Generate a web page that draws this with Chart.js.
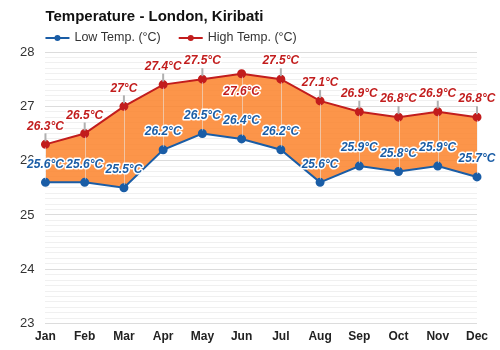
<!DOCTYPE html>
<html>
<head>
<meta charset="utf-8">
<script src="https://cdn.jsdelivr.net/npm/chart.js@4"></script>
<style>
  html, body { margin: 0; padding: 0; background: #fff; }
  #wrap { width: 500px; height: 350px; }
</style>
</head>
<body>
<div id="wrap"><canvas id="grafico"></canvas></div>
<script>
// dados do gráfico
const meses = ["Jan", "Feb", "Mar", "Apr", "May", "Jun", "Jul", "Aug", "Sep", "Oct", "Nov", "Dec"];
const minimas = [25.6, 25.6, 25.5, 26.2, 26.5, 26.4, 26.2, 25.6, 25.9, 25.8, 25.9, 25.7];
const maximas = [26.3, 26.5, 27, 27.4, 27.5, 27.6, 27.5, 27.1, 26.9, 26.8, 26.9, 26.8];
const titulo = "Temperature - London, Kiribati";
const nomesSeries = ["Low Temp. (°C)", "High Temp. (°C)"];

const AZUL = "#1a5da6";
const VERMELHO = "#c21d1d";
const FONTE = "'Liberation Sans', Arial, sans-serif";

// título e legenda desenhados à mão, alinhados com a área do gráfico
const cabecalho = {
  id: "cabecalho",
  afterDraw(chart) {
    const c = chart.ctx;
    const x0 = chart.chartArea.left;
    c.save();
    c.fillStyle = "#111";
    c.font = "bold 15px " + FONTE;
    c.textBaseline = "middle";
    c.fillText(titulo, x0, 17);

    c.font = "12.5px " + FONTE;
    let x = x0;
    chart.data.datasets.forEach(ds => {
      c.strokeStyle = ds.borderColor;
      c.lineWidth = 2;
      c.beginPath();
      c.moveTo(x, 38);
      c.lineTo(x + 24, 38);
      c.stroke();
      c.fillStyle = ds.borderColor;
      c.beginPath();
      c.arc(x + 12, 38, 3, 0, Math.PI * 2);
      c.fill();
      c.fillStyle = "#333";
      c.fillText(ds.label, x + 29, 38);
      x += 29 + c.measureText(ds.label).width + 18;
    });
    c.restore();
  }
};

// rótulos dos valores com linha guia
const rotulos = {
  id: "rotulos",
  afterDatasetsDraw(chart) {
    const c = chart.ctx;
    const baixo = chart.getDatasetMeta(0).data;
    const alto = chart.getDatasetMeta(1).data;
    c.save();
    // linhas verticais entre mínima e máxima
    c.strokeStyle = "rgba(235,235,235,0.55)";
    c.lineWidth = 1;
    alto.forEach((p, i) => {
      c.beginPath();
      c.moveTo(Math.round(p.x) + 0.5, p.y + 3);
      c.lineTo(Math.round(p.x) + 0.5, baixo[i].y - 3);
      c.stroke();
    });

    c.font = "italic bold 12px " + FONTE;
    c.textAlign = "center";
    c.textBaseline = "middle";
    c.lineJoin = "round";
    chart.data.datasets.forEach((ds, d) => {
      const pts = chart.getDatasetMeta(d).data;
      pts.forEach((p, i) => {
        // junho da máxima fica abaixo do ponto para não colidir
        const abaixo = d === 1 && i === 5;
        const ty = abaixo ? p.y + 18 : p.y - 18;
        if (d === 1 && !abaixo) {
          c.strokeStyle = "#b0b0b0";
          c.lineWidth = 2;
          c.beginPath();
          c.moveTo(p.x, p.y - 3);
          c.lineTo(p.x, ty + 7);
          c.stroke();
        }
        const txt = ds.data[i] + "°C";
        c.strokeStyle = "#fff";
        c.lineWidth = 3;
        c.strokeText(txt, p.x, ty);
        c.fillStyle = ds.borderColor;
        c.fillText(txt, p.x, ty);
      });
    });
    c.restore();
  }
};

const ehInteiro = v => Math.abs(v - Math.round(v)) < 1e-6;

new Chart(document.getElementById("grafico"), {
  type: "line",
  data: {
    labels: meses,
    datasets: [{
      label: nomesSeries[0],
      data: minimas,
      borderColor: AZUL,
      backgroundColor: AZUL,
      borderWidth: 2,
      pointRadius: 3.5,
      pointBackgroundColor: AZUL,
      tension: 0,
      fill: false
    }, {
      label: nomesSeries[1],
      data: maximas,
      borderColor: VERMELHO,
      backgroundColor: "rgba(252,130,42,0.85)",
      borderWidth: 2,
      pointRadius: 3.5,
      pointBackgroundColor: VERMELHO,
      tension: 0,
      fill: 0
    }]
  },
  options: {
    responsive: true,
    maintainAspectRatio: false,
    animation: false,
    layout: { padding: { top: 52, right: 23, bottom: 0, left: 9 } },
    plugins: {
      legend: { display: false },
      title: { display: false },
      tooltip: { enabled: false }
    },
    scales: {
      x: {
        offset: false,
        grid: { display: false, drawTicks: false },
        border: { display: false },
        ticks: {
          color: "#222",
          font: { family: FONTE, size: 12, weight: "bold" },
          padding: 6,
          maxRotation: 0,
          autoSkip: false
        }
      },
      y: {
        min: 23,
        max: 28,
        border: { display: false },
        grid: {
          drawTicks: false,
          color: ctx => ehInteiro(ctx.tick.value) ? "#dcdcdc" : "#f0f0f0",
          lineWidth: 1
        },
        ticks: {
          stepSize: 0.1,
          maxTicksLimit: 100,
          autoSkip: false,
          padding: 11,
          color: "#333",
          font: { family: FONTE, size: 13 },
          callback: v => ehInteiro(v) ? String(Math.round(v)) : ""
        }
      }
    }
  },
  plugins: [cabecalho, rotulos]
});
</script>
</body>
</html>
